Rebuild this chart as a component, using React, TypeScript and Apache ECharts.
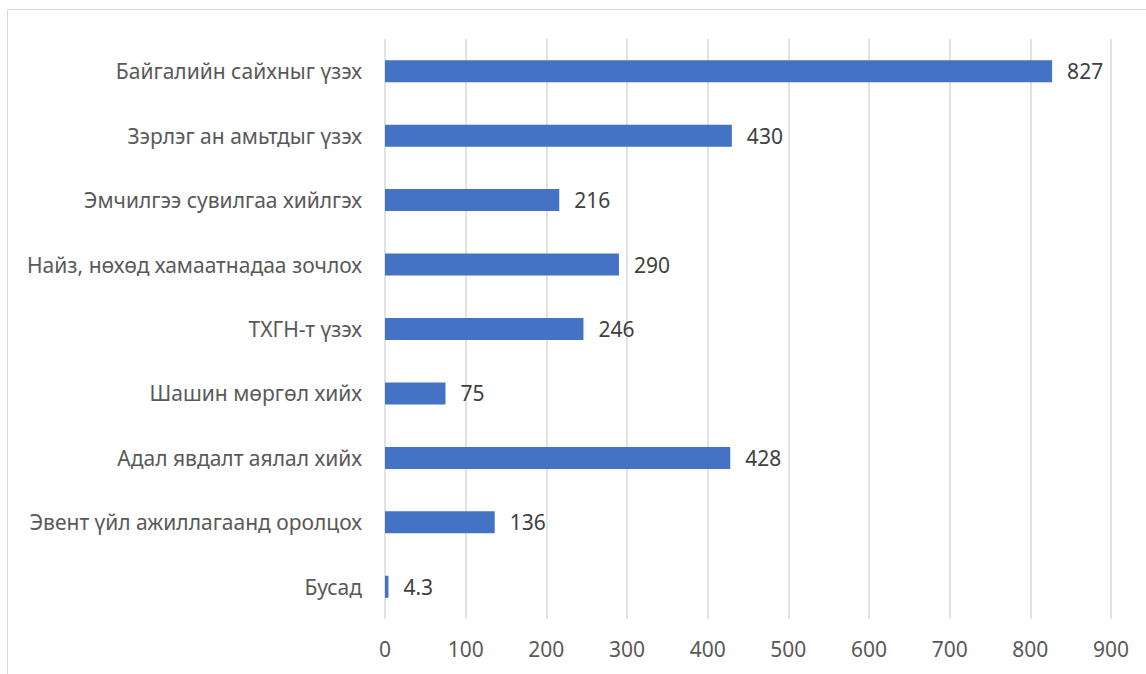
import React, { useEffect, useRef } from "react";
import * as echarts from "echarts";

const categories = [
  "Байгалийн сайхныг үзэх",
  "Зэрлэг ан амьтдыг үзэх",
  "Эмчилгээ сувилгаа хийлгэх",
  "Найз, нөхөд хамаатнадаа зочлох",
  "ТХГН-т үзэх",
  "Шашин мөргөл хийх",
  "Адал явдалт аялал хийх",
  "Эвент үйл ажиллагаанд оролцох",
  "Бусад",
];
const values = [827, 430, 216, 290, 246, 75, 428, 136, 4.3];

const FONT = "'Noto Sans', 'Open Sans', sans-serif";

export default function App() {
  const ref = useRef<HTMLDivElement>(null);
  useEffect(() => {
    if (!ref.current) return;
    const chart = echarts.init(ref.current, undefined, { renderer: "svg" });
    chart.setOption({
      animation: false,
      backgroundColor: "#ffffff",
      graphic: [
        {
          type: "rect",
          shape: { x: 7.5, y: 9.5, width: 1300, height: 800 },
          style: { fill: "none", stroke: "#d9d9d9", lineWidth: 1 },
          silent: true,
        },
      ],
      grid: { left: 385, right: 35, top: 39, bottom: 55, containLabel: false },
      xAxis: {
        type: "value",
        min: 0,
        max: 900,
        interval: 100,
        axisLine: { show: false },
        axisTick: { show: false },
        axisLabel: { color: "#595959", fontSize: 21, fontFamily: FONT, margin: 19 },
        splitLine: { show: true, lineStyle: { color: "#d9d9d9", width: 1.5 } },
      },
      yAxis: {
        type: "category",
        data: categories,
        inverse: true,
        axisLine: { show: false },
        axisTick: { show: false },
        axisLabel: { color: "#595959", fontSize: 21, fontFamily: FONT, margin: 23 },
      },
      series: [
        {
          type: "bar",
          data: values,
          barWidth: 22,
          itemStyle: { color: "#4472c4" },
          label: {
            show: true,
            position: "right",
            distance: 15,
            color: "#404040",
            fontSize: 21,
            fontFamily: FONT,
          },
        },
      ],
    });
    return () => chart.dispose();
  }, []);
  return (
    <div
      ref={ref}
      style={{ position: "fixed", left: 0, top: 0, width: 1146, height: 674 }}
    />
  );
}
